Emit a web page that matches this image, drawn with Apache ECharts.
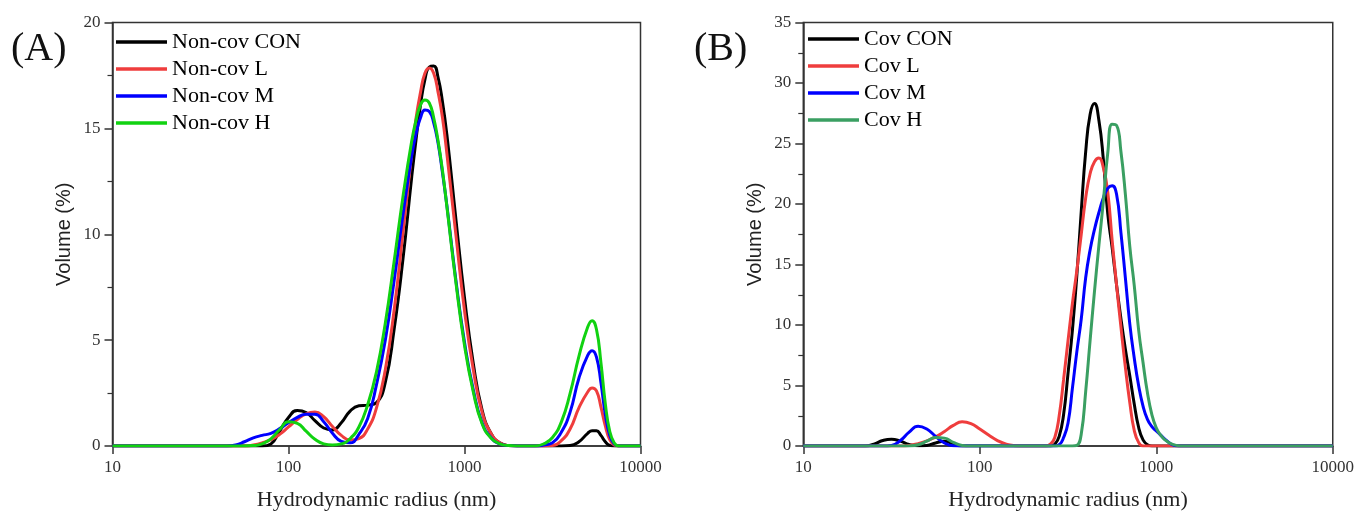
<!DOCTYPE html>
<html>
<head>
<meta charset="utf-8">
<script src="https://cdn.jsdelivr.net/npm/echarts@6/dist/echarts.min.js"></script>
<style>
html,body{margin:0;padding:0;background:#fff;}
#c{width:1357px;height:516px;}
</style>
</head>
<body>
<div id="c"></div>
<script>
// ---------- data (hydrodynamic radius in nm, volume in %) ----------
const xTicks = [10, 100, 1000, 10000];
const yTicksA = [0, 5, 10, 15, 20];
const yTicksB = [0, 5, 10, 15, 20, 25, 30, 35];

const namesA = ['Non-cov CON', 'Non-cov L', 'Non-cov M', 'Non-cov H'];
const namesB = ['Cov CON', 'Cov L', 'Cov M', 'Cov H'];

const sizesA = [10, 44.7, 50.1, 56.2, 63.1, 70.8, 79.4, 89.1, 100, 112.2, 125.9, 141.3, 158.5, 177.8, 199.5, 223.9, 251.2, 281.8, 316.2, 354.8, 398.1, 446.7, 501.2, 530.9, 562.3, 595.7, 631.0, 668.3, 707.9, 749.9, 794.3, 891.3, 1000, 1122, 1259, 1413, 1585, 1778, 1995, 2512, 2818, 3162, 3548, 3981, 4467, 5012, 5309, 5623, 5957, 6310, 6683, 7079, 7499, 7943, 10000];
const nonCovCON = [0, 0, 0, 0, 0, 0, 0.1, 0.7, 1.35, 1.68, 1.58, 1.2, 0.85, 0.76, 1.1, 1.65, 1.9, 1.93, 2.05, 3.0, 5.5, 8.8, 12.7, 14.5, 16.1, 17.3, 17.9, 17.95, 17.4, 16.25, 14.7, 10.8, 7.0, 3.9, 1.7, 0.6, 0.15, 0.02, 0, 0, 0, 0, 0, 0.02, 0.2, 0.6, 0.72, 0.72, 0.5, 0.2, 0.03, 0, 0, 0, 0];
const nonCovL = [0, 0, 0, 0, 0.05, 0.15, 0.3, 0.55, 0.9, 1.25, 1.52, 1.6, 1.38, 0.92, 0.5, 0.28, 0.35, 0.8, 1.8, 3.6, 6.4, 10.05, 13.8, 15.5, 16.7, 17.6, 17.85, 17.6, 16.7, 15.5, 13.8, 10.05, 6.4, 3.6, 1.6, 0.6, 0.15, 0.02, 0, 0, 0, 0.02, 0.25, 0.8, 1.8, 2.55, 2.74, 2.6, 1.85, 0.95, 0.3, 0.05, 0, 0, 0];
const nonCovM = [0, 0, 0.05, 0.2, 0.38, 0.5, 0.6, 0.82, 1.1, 1.35, 1.5, 1.5, 1.15, 0.6, 0.22, 0.15, 0.55, 1.3, 2.9, 5.0, 7.8, 10.9, 13.7, 14.75, 15.5, 15.87, 15.8, 15.26, 14.3, 12.9, 11.35, 7.9, 4.9, 2.65, 1.1, 0.4, 0.1, 0.02, 0, 0, 0.05, 0.15, 0.65, 1.6, 3.2, 4.28, 4.5, 4.2, 3.0, 1.5, 0.5, 0.1, 0, 0, 0];
const nonCovH = [0, 0, 0, 0, 0.02, 0.1, 0.34, 0.78, 1.14, 1.07, 0.7, 0.32, 0.1, 0.05, 0.1, 0.35, 0.9, 1.95, 3.5, 5.8, 8.7, 11.75, 14.4, 15.4, 16.1, 16.34, 16.2, 15.5, 14.4, 13.0, 11.3, 7.8, 4.76, 2.55, 1.05, 0.38, 0.1, 0.02, 0, 0, 0.1, 0.4, 1.13, 2.48, 4.23, 5.62, 5.92, 5.5, 3.95, 2.0, 0.7, 0.15, 0, 0, 0];

const sizesB = [10, 22.4, 25.1, 28.2, 31.6, 35.5, 39.8, 44.7, 50.1, 56.2, 63.1, 70.8, 79.4, 89.1, 100, 112.2, 125.9, 141.3, 158.5, 177.8, 199.5, 237.1, 251.2, 266.1, 281.8, 298.5, 316.2, 335.0, 354.8, 375.8, 398.1, 421.7, 446.7, 473.2, 501.2, 530.9, 562.3, 595.7, 631.0, 668.3, 707.9, 749.9, 794.3, 841.4, 891.3, 944.1, 1000, 1059, 1122, 1189, 1259, 1334, 1413, 1585, 10000];
const covCON = [0, 0, 0.15, 0.45, 0.56, 0.4, 0.12, 0.02, 0.05, 0.25, 0.4, 0.15, 0, 0, 0, 0, 0, 0, 0, 0, 0, 0, 0, 0.15, 0.8, 2.6, 6.0, 9.6, 14.1, 19.4, 24.3, 27.4, 28.3, 26.9, 23.7, 19.2, 16.4, 13.3, 10.5, 8.0, 5.8, 3.5, 1.55, 0.5, 0.1, 0, 0, 0, 0, 0, 0, 0, 0, 0, 0];
const covL = [0, 0, 0, 0, 0, 0, 0.05, 0.2, 0.42, 0.75, 1.2, 1.7, 2.0, 1.85, 1.4, 0.9, 0.45, 0.15, 0.03, 0, 0, 0, 0.15, 0.7, 2.5, 5.5, 8.7, 11.8, 14.5, 17.5, 20.5, 22.5, 23.5, 23.8, 23.0, 21.0, 17.0, 13.3, 9.8, 6.5, 3.6, 1.3, 0.3, 0, 0, 0, 0, 0, 0, 0, 0, 0, 0, 0, 0];
const covM = [0, 0, 0, 0, 0.05, 0.45, 1.15, 1.63, 1.4, 0.8, 0.25, 0.02, 0, 0, 0, 0, 0, 0, 0, 0, 0, 0, 0, 0, 0.1, 0.7, 1.9, 4.8, 7.8, 10.5, 13.9, 16.2, 17.9, 19.3, 20.5, 21.3, 21.5, 20.8, 17.6, 13.9, 10.1, 7.3, 5.0, 3.3, 2.2, 1.6, 1.25, 0.9, 0.55, 0.25, 0.05, 0, 0, 0, 0];
const covH = [0, 0, 0, 0, 0, 0, 0, 0.1, 0.4, 0.7, 0.65, 0.3, 0.05, 0, 0, 0, 0, 0, 0, 0, 0, 0, 0, 0, 0, 0, 0, 0, 0.05, 1.0, 4.5, 8.7, 12.8, 16.6, 20.2, 24.2, 26.6, 26.5, 24.3, 20.8, 16.5, 13.3, 9.6, 6.9, 4.4, 2.6, 1.5, 0.9, 0.5, 0.25, 0.1, 0.02, 0, 0, 0];

// ---------- styling ----------
const SERIF = 'Liberation Serif';
const SANS = 'Liberation Sans';
const AXIS = '#333333';
const colorsA = ['#000000', '#ef3d3d', '#0000ff', '#11d211'];
const colorsB = ['#000000', '#ef3d3d', '#0000ff', '#3a9f62'];

function pairs(xs, ys) { return xs.map((x, i) => [x, ys[i]]); }

function xAxisFor(gi) {
  return {
    type: 'log', logBase: 10, gridIndex: gi,
    min: xTicks[0], max: xTicks[xTicks.length - 1],
    axisLine: { show: true, lineStyle: { color: AXIS, width: 1.5 } },
    axisTick: { show: true, inside: false, length: 8, lineStyle: { color: AXIS, width: 1.5 } },
    minorTick: { show: false },
    splitLine: { show: false },
    axisLabel: { fontFamily: SERIF, fontSize: 17, color: '#333', margin: 13,
      formatter: v => String(Math.round(v)) },
    name: 'Hydrodynamic radius (nm)', nameLocation: 'middle', nameGap: 43,
    nameTextStyle: { fontFamily: SERIF, fontSize: 22, color: '#222' }
  };
}
function yAxisFor(gi, ticks) {
  return {
    type: 'value', gridIndex: gi,
    min: ticks[0], max: ticks[ticks.length - 1], interval: ticks[1] - ticks[0],
    axisLine: { show: true, lineStyle: { color: AXIS, width: 1.5 } },
    axisTick: { show: true, inside: false, length: 8, lineStyle: { color: AXIS, width: 1.5 } },
    minorTick: { show: true, splitNumber: 2, length: 5, lineStyle: { color: AXIS, width: 1.2 } },
    splitLine: { show: false },
    minorSplitLine: { show: false },
    axisLabel: { fontFamily: SERIF, fontSize: 17, color: '#333', margin: 12 },
    name: 'Volume (%)', nameLocation: 'middle', nameGap: 38,
    nameTextStyle: { fontFamily: SANS, fontSize: 20, color: '#222' }
  };
}
function lineSeries(name, xs, ys, color, gi) {
  return {
    name: name, type: 'line', xAxisIndex: gi, yAxisIndex: gi,
    data: pairs(xs, ys), smooth: 0.5, symbol: 'none', showSymbol: false,
    lineStyle: { color: color, width: 3 }, itemStyle: { color: color },
    emphasis: { disabled: true }, animation: false
  };
}

const seriesA = [nonCovCON, nonCovL, nonCovM, nonCovH];
const seriesB = [covCON, covL, covM, covH];

const legendCommon = {
  orient: 'vertical', icon: 'rect', itemWidth: 51, itemHeight: 3.5, itemGap: 5, padding: 0,
  textStyle: { fontFamily: SERIF, fontSize: 22, color: '#000', lineHeight: 22 },
  selectedMode: false
};

const option = {
  backgroundColor: '#ffffff',
  animation: false,
  grid: [
    { left: 112.5, top: 22.5, width: 528, height: 425, show: true, borderColor: AXIS, borderWidth: 1.5, backgroundColor: 'transparent' },
    { left: 803.3, top: 22.5, width: 531, height: 425, show: true, borderColor: AXIS, borderWidth: 1.5, backgroundColor: 'transparent' }
  ],
  xAxis: [xAxisFor(0), xAxisFor(1)],
  yAxis: [yAxisFor(0, yTicksA), yAxisFor(1, yTicksB)],
  legend: [
    Object.assign({ data: namesA, left: 116, top: 31 }, legendCommon),
    Object.assign({ data: namesB, left: 808, top: 28 }, legendCommon)
  ],
  graphic: [
    { type: 'text', left: 11, top: 29, style: { text: '(A)', font: '40px "Liberation Serif"', fill: '#111' } },
    { type: 'text', left: 694, top: 29, style: { text: '(B)', font: '40px "Liberation Serif"', fill: '#111' } }
  ],
  series: [
    ...namesA.map((n, i) => lineSeries(n, sizesA, seriesA[i], colorsA[i], 0)),
    ...namesB.map((n, i) => lineSeries(n, sizesB, seriesB[i], colorsB[i], 1))
  ]
};

const chart = echarts.init(document.getElementById('c'));
chart.setOption(option);
</script>
</body>
</html>
